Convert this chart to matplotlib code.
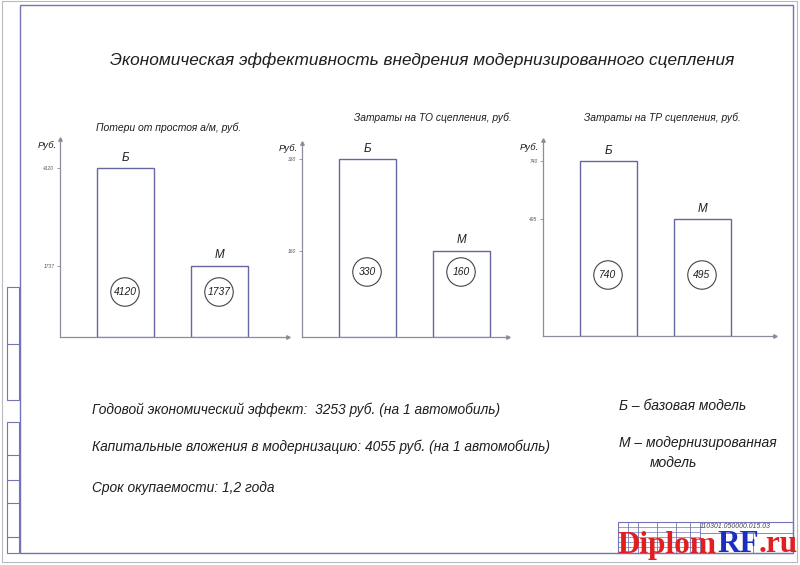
import matplotlib
matplotlib.use('Agg')
import matplotlib.pyplot as plt
from matplotlib.patches import Rectangle

# данные для трёх диаграмм
titles = ['Потери от простоя а/м, руб.', 'Затраты на ТО сцепления, руб.', 'Затраты на ТР сцепления, руб.']
cats = ['Б', 'М']
values = [[4120, 1737], [330, 160], [740, 495]]
main_title = 'Экономическая эффективность внедрения модернизированного сцепления'
notes = ['Годовой экономический эффект:  3253 руб. (на 1 автомобиль)',
         'Капитальные вложения в модернизацию: 4055 руб. (на 1 автомобиль)',
         'Срок окупаемости: 1,2 года']
legend_lines = ['Б – базовая модель', 'М – модернизированная', 'модель']
doc_code = '110301.050000.015.03'

W, H = 800, 565
FONT = ['Liberation Sans', 'DejaVu Sans']
frame_c = '#7474b4'
bar_c = '#6666a0'
axis_c = '#8c8c9c'
txt_c = '#1e1e1e'

fig = plt.figure(figsize=(W / 100, H / 100), dpi=100)
fig.patch.set_facecolor('white')
renderer = fig.canvas.get_renderer()


def fx(x):
    return x / W


def fy(y):
    return 1 - y / H


def text(x, y, s, size, **kw):
    kw.setdefault('color', txt_c)
    kw.setdefault('ha', 'left')
    kw.setdefault('va', 'center')
    return fig.text(fx(x), fy(y), s, fontsize=size, family=FONT, style='italic', **kw)


def size_for(s, width):
    # подбираем размер шрифта под ширину строки на чертеже
    t = text(0, 0, s, 10)
    w = t.get_window_extent(renderer).width
    t.remove()
    return 10 * width / w


# рамка чертежа
bg = fig.add_axes([0, 0, 1, 1])
bg.set_xlim(0, W)
bg.set_ylim(H, 0)
bg.axis('off')
bg.add_patch(Rectangle((2, 1), 795, 561, fill=False, ec='#b8b8c0', lw=0.8))
bg.add_patch(Rectangle((20, 5), 773, 548, fill=False, ec=frame_c, lw=1.0))
# боковые графы
for y0, y1, divs in [(287, 400, [344]), (422, 553, [455, 480, 503, 537])]:
    bg.add_patch(Rectangle((7, y0), 12, y1 - y0, fill=False, ec=frame_c, lw=0.8))
    for d in divs:
        bg.plot([7, 19], [d, d], color=frame_c, lw=0.8)
# штамп
bg.add_patch(Rectangle((618, 522), 175, 31, fill=False, ec=frame_c, lw=0.8))
for xv in [628, 638, 657, 676, 690, 700]:
    bg.plot([xv, xv], [522, 553], color=frame_c, lw=0.6)
for yv in [527, 532, 537, 542, 547]:
    bg.plot([618, 700], [yv, yv], color=frame_c, lw=0.5)
bg.plot([700, 793], [533, 533], color=frame_c, lw=0.6)
bg.plot([753, 753], [533, 553], color=frame_c, lw=0.6)

# оси: (x оси, низ, верх, правый край, высота столбца Б в px, центр кружка над осью)
layout = [(60, 337, 139, 288, 169, 45),
          (302, 337, 143, 508, 178, 65),
          (543, 336, 140, 775, 175, 61)]
sub_pos = [(169, 128, 146), (433, 118, 157), (662, 118, 156)]
rub_pos = [(47, 145), (288, 148), (529, 147)]

num_size = size_for('4120', 23)
cat_size = size_for('Б', 7.5)
rub_size = size_for('Руб.', 19)

for i, (ax_x, base, top, xend, bar_px, circ) in enumerate(layout):
    ax = fig.add_axes([fx(ax_x), fy(base), (xend - ax_x) / W, (base - top) / H])
    vals = values[i]
    ymax = vals[0] * (base - top) / bar_px
    unit = 94.0
    ax.set_xlim(-65 / unit, (xend - ax_x - 65) / unit)
    ax.set_ylim(0, ymax)
    ax.patch.set_alpha(0)
    ax.bar(range(len(vals)), vals, width=57 / unit, facecolor='white',
           edgecolor=bar_c, linewidth=1.0, zorder=3)
    for s in ['top', 'right']:
        ax.spines[s].set_visible(False)
    for s in ['left', 'bottom']:
        ax.spines[s].set_color(axis_c)
        ax.spines[s].set_linewidth(0.9)
    ax.plot(0, 1, '^', color=axis_c, ms=2.5, transform=ax.transAxes, clip_on=False)
    ax.plot(1, 0, '>', color=axis_c, ms=2.5, transform=ax.transAxes, clip_on=False)
    ax.set_xticks([])
    ax.set_yticks(vals)
    ax.set_yticklabels([str(v) for v in vals], fontsize=3.5, family=FONT,
                       style='italic', color='#555')
    ax.tick_params(axis='y', length=2, width=0.6, color=axis_c, pad=2)
    cy = circ / (base - top) * ymax
    for j, v in enumerate(vals):
        ax.text(j, v + ymax * 0.022, cats[j], ha='center', va='bottom',
                fontsize=cat_size, family=FONT, style='italic', color=txt_c)
        ax.scatter([j], [cy], s=420, facecolors='none', edgecolors='#444', lw=0.8, zorder=4)
        ax.text(j, cy, str(v), ha='center', va='center', fontsize=num_size,
                family=FONT, style='italic', color=txt_c, zorder=5)
    text(rub_pos[i][0], rub_pos[i][1], 'Руб.', rub_size, ha='center')
    sx, sy, sw = sub_pos[i]
    text(sx, sy, titles[i], size_for(titles[i], sw), ha='center')

text(422, 60, main_title, size_for(main_title, 625), ha='center')
note_size = size_for(notes[1], 458)
for k, y in enumerate([410, 447, 488]):
    text(92, y, notes[k], note_size)
leg_size = size_for(legend_lines[1], 157)
text(619, 406, legend_lines[0], leg_size)
text(619, 443, legend_lines[1], leg_size)
text(650, 463, legend_lines[2], leg_size)
text(735, 527, doc_code, size_for(doc_code, 70), ha='center', color='#444')

# водяной знак
x = 618
for part, col in [('Diplom', '#e02020'), ('RF', '#1a2fbf'), ('.ru', '#e02020')]:
    t = fig.text(fx(x), fy(545), part, fontsize=22.5, family='Liberation Serif',
                 weight='bold', color=col, ha='left', va='center', zorder=10)
    x += t.get_window_extent(renderer).width

fig.savefig('out.png', dpi=100, facecolor='white')
